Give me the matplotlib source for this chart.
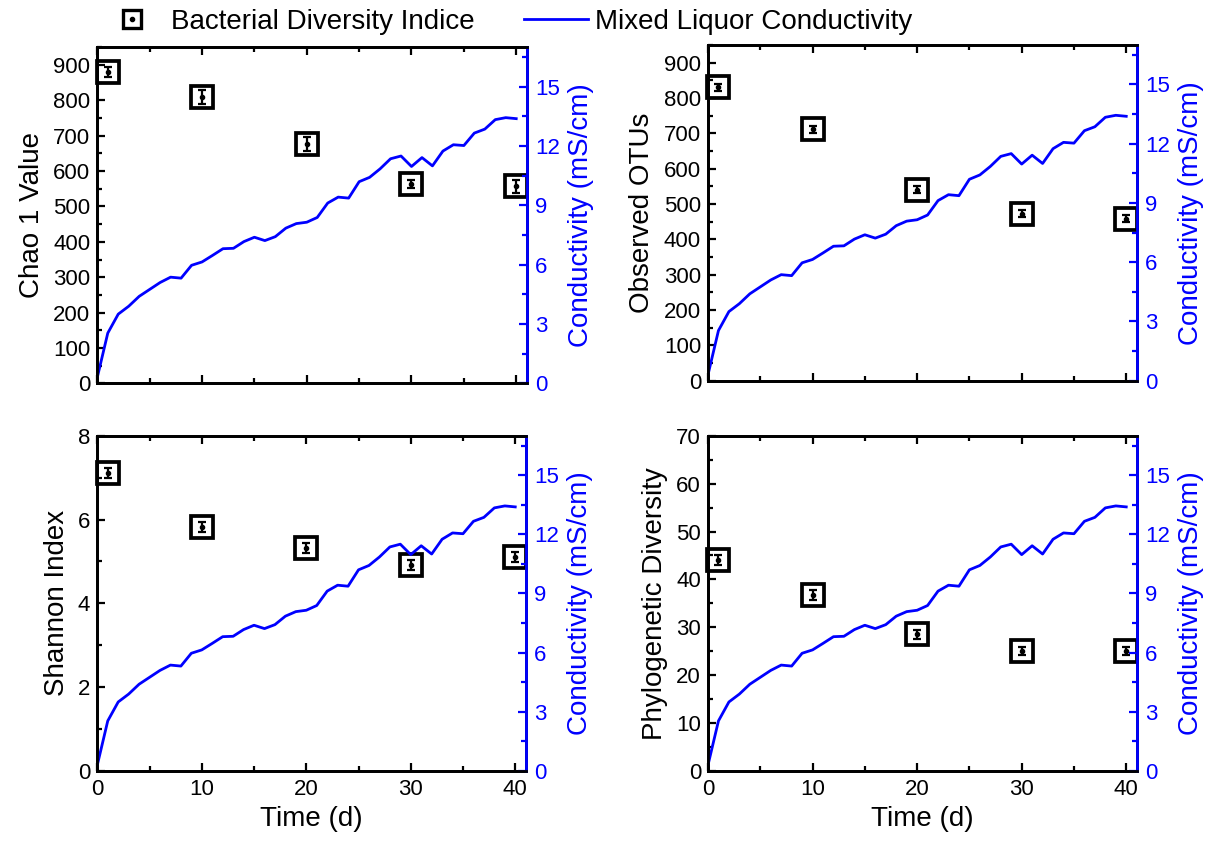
import numpy as np
import matplotlib
matplotlib.use('Agg')
import matplotlib.pyplot as plt
from matplotlib.lines import Line2D
from matplotlib.legend_handler import HandlerTuple
from matplotlib.ticker import MultipleLocator

plt.rcParams['font.family'] = ['Liberation Sans', 'DejaVu Sans']

# conductivity (mS/cm), one reading per day
days = list(range(0, 41))
conductivity = [0.3, 2.54, 3.5, 3.9, 4.4, 4.75, 5.1, 5.37, 5.32, 5.97, 6.14,
                6.47, 6.81, 6.83, 7.17, 7.39, 7.22, 7.42, 7.85, 8.08, 8.15,
                8.39, 9.12, 9.42, 9.37, 10.2, 10.42, 10.85, 11.36, 11.5, 10.97,
                11.42, 11.0, 11.75, 12.07, 12.03, 12.66, 12.86, 13.34, 13.44, 13.39]

# diversity indices at sampling days
sample_days = [1, 10, 20, 30, 40]
chao1 = [879, 809, 676, 564, 557]
chao1_err = [14, 20, 19, 12, 19]
otus = [830, 712, 541, 472, 459]
otus_err = [11, 10, 10, 10, 10]
shannon = [7.12, 5.82, 5.31, 4.91, 5.11]
shannon_err = [0.12, 0.12, 0.12, 0.12, 0.12]
pd_vals = [44.0, 36.8, 28.5, 25.0, 25.0]
pd_err = [1.0, 1.0, 1.0, 0.8, 0.8]

panels = [
    ('Chao 1 Value', chao1, chao1_err, 950, 100, 50),
    ('Observed OTUs', otus, otus_err, 950, 100, 50),
    ('Shannon Index', shannon, shannon_err, 8, 2, 1),
    ('Phylogenetic Diversity', pd_vals, pd_err, 70, 10, 5),
]

W, H = 1222, 848
boxes = [
    (97.3, 47.3, 526.7, 383.3),
    (708, 45, 1136.7, 380.7),
    (97.3, 435.7, 525.7, 771),
    (708, 435.7, 1136.7, 771),
]

fig = plt.figure(figsize=(W / 100, H / 100), dpi=100)
blue = '#0000ff'
msize, mwidth = 15.5, 2.7

for i, (label, vals, errs, ymax, major, minor) in enumerate(panels):
    x0, y0, x1, y1 = boxes[i]
    ax = fig.add_axes([x0 / W, 1 - y1 / H, (x1 - x0) / W, (y1 - y0) / H])
    ax2 = ax.twinx()

    ax.errorbar(sample_days, vals, yerr=errs, fmt='none', ecolor='black',
                elinewidth=1.6, capsize=3, capthick=1.6, zorder=3, clip_on=False)
    ax.plot(sample_days, vals, ls='none', marker='s', ms=msize, mfc='none',
            mec='black', mew=mwidth, zorder=4, clip_on=False)
    ax.plot(sample_days, vals, ls='none', marker='o', ms=3, color='black',
            zorder=5, clip_on=False)

    ax2.plot(days, conductivity, color=blue, lw=2)

    ax.set_xlim(0, 41)
    ax.set_ylim(0, ymax)
    ax2.set_ylim(0, 17)
    ax.xaxis.set_major_locator(MultipleLocator(10))
    ax.xaxis.set_minor_locator(MultipleLocator(5))
    ax.yaxis.set_major_locator(MultipleLocator(major))
    ax.yaxis.set_minor_locator(MultipleLocator(minor))
    ax2.yaxis.set_major_locator(MultipleLocator(3))
    ax2.yaxis.set_minor_locator(MultipleLocator(1.5))

    for s in ['left', 'top', 'bottom']:
        ax2.spines[s].set_linewidth(2)
        ax2.spines[s].set_color('black')
    ax2.spines['right'].set_linewidth(2)
    ax2.spines['right'].set_color(blue)
    for s in ax.spines.values():
        s.set_linewidth(2)

    ax.tick_params(axis='x', which='both', direction='in', top=True,
                   labelsize=16, width=1.6, pad=6)
    ax.tick_params(axis='y', which='both', direction='in', right=False,
                   labelsize=16, width=1.6, pad=5)
    ax.tick_params(which='major', length=6)
    ax.tick_params(which='minor', length=3.5)
    ax2.tick_params(axis='y', which='both', direction='in', colors=blue,
                    labelsize=16, width=1.6, pad=6)
    ax2.tick_params(which='major', length=6)
    ax2.tick_params(which='minor', length=3.5)

    ax.set_ylabel(label, fontsize=20, labelpad=6)
    ax2.set_ylabel('Conductivity (mS/cm)', fontsize=20, color=blue, labelpad=6)

    if i < 2:
        ax.tick_params(axis='x', labelbottom=False)
    else:
        ax.set_xlabel('Time (d)', fontsize=20, labelpad=4)

sq = Line2D([], [], ls='none', marker='s', ms=13, mfc='none', mec='black', mew=2.4)
dot = Line2D([], [], ls='none', marker='o', ms=3, color='black')
ln = Line2D([], [], color=blue, lw=2)
fig.legend([(sq, dot), ln], ['Bacterial Diversity Indice', 'Mixed Liquor Conductivity'],
           handler_map={tuple: HandlerTuple(ndivide=1)},
           loc='upper left', bbox_to_anchor=(100 / W, 1 - 9 / H), ncol=2,
           frameon=False, fontsize=20, borderpad=0, borderaxespad=0,
           handlelength=2.3, handletextpad=0.25, columnspacing=1.8)

fig.savefig('out.png', dpi=100)
